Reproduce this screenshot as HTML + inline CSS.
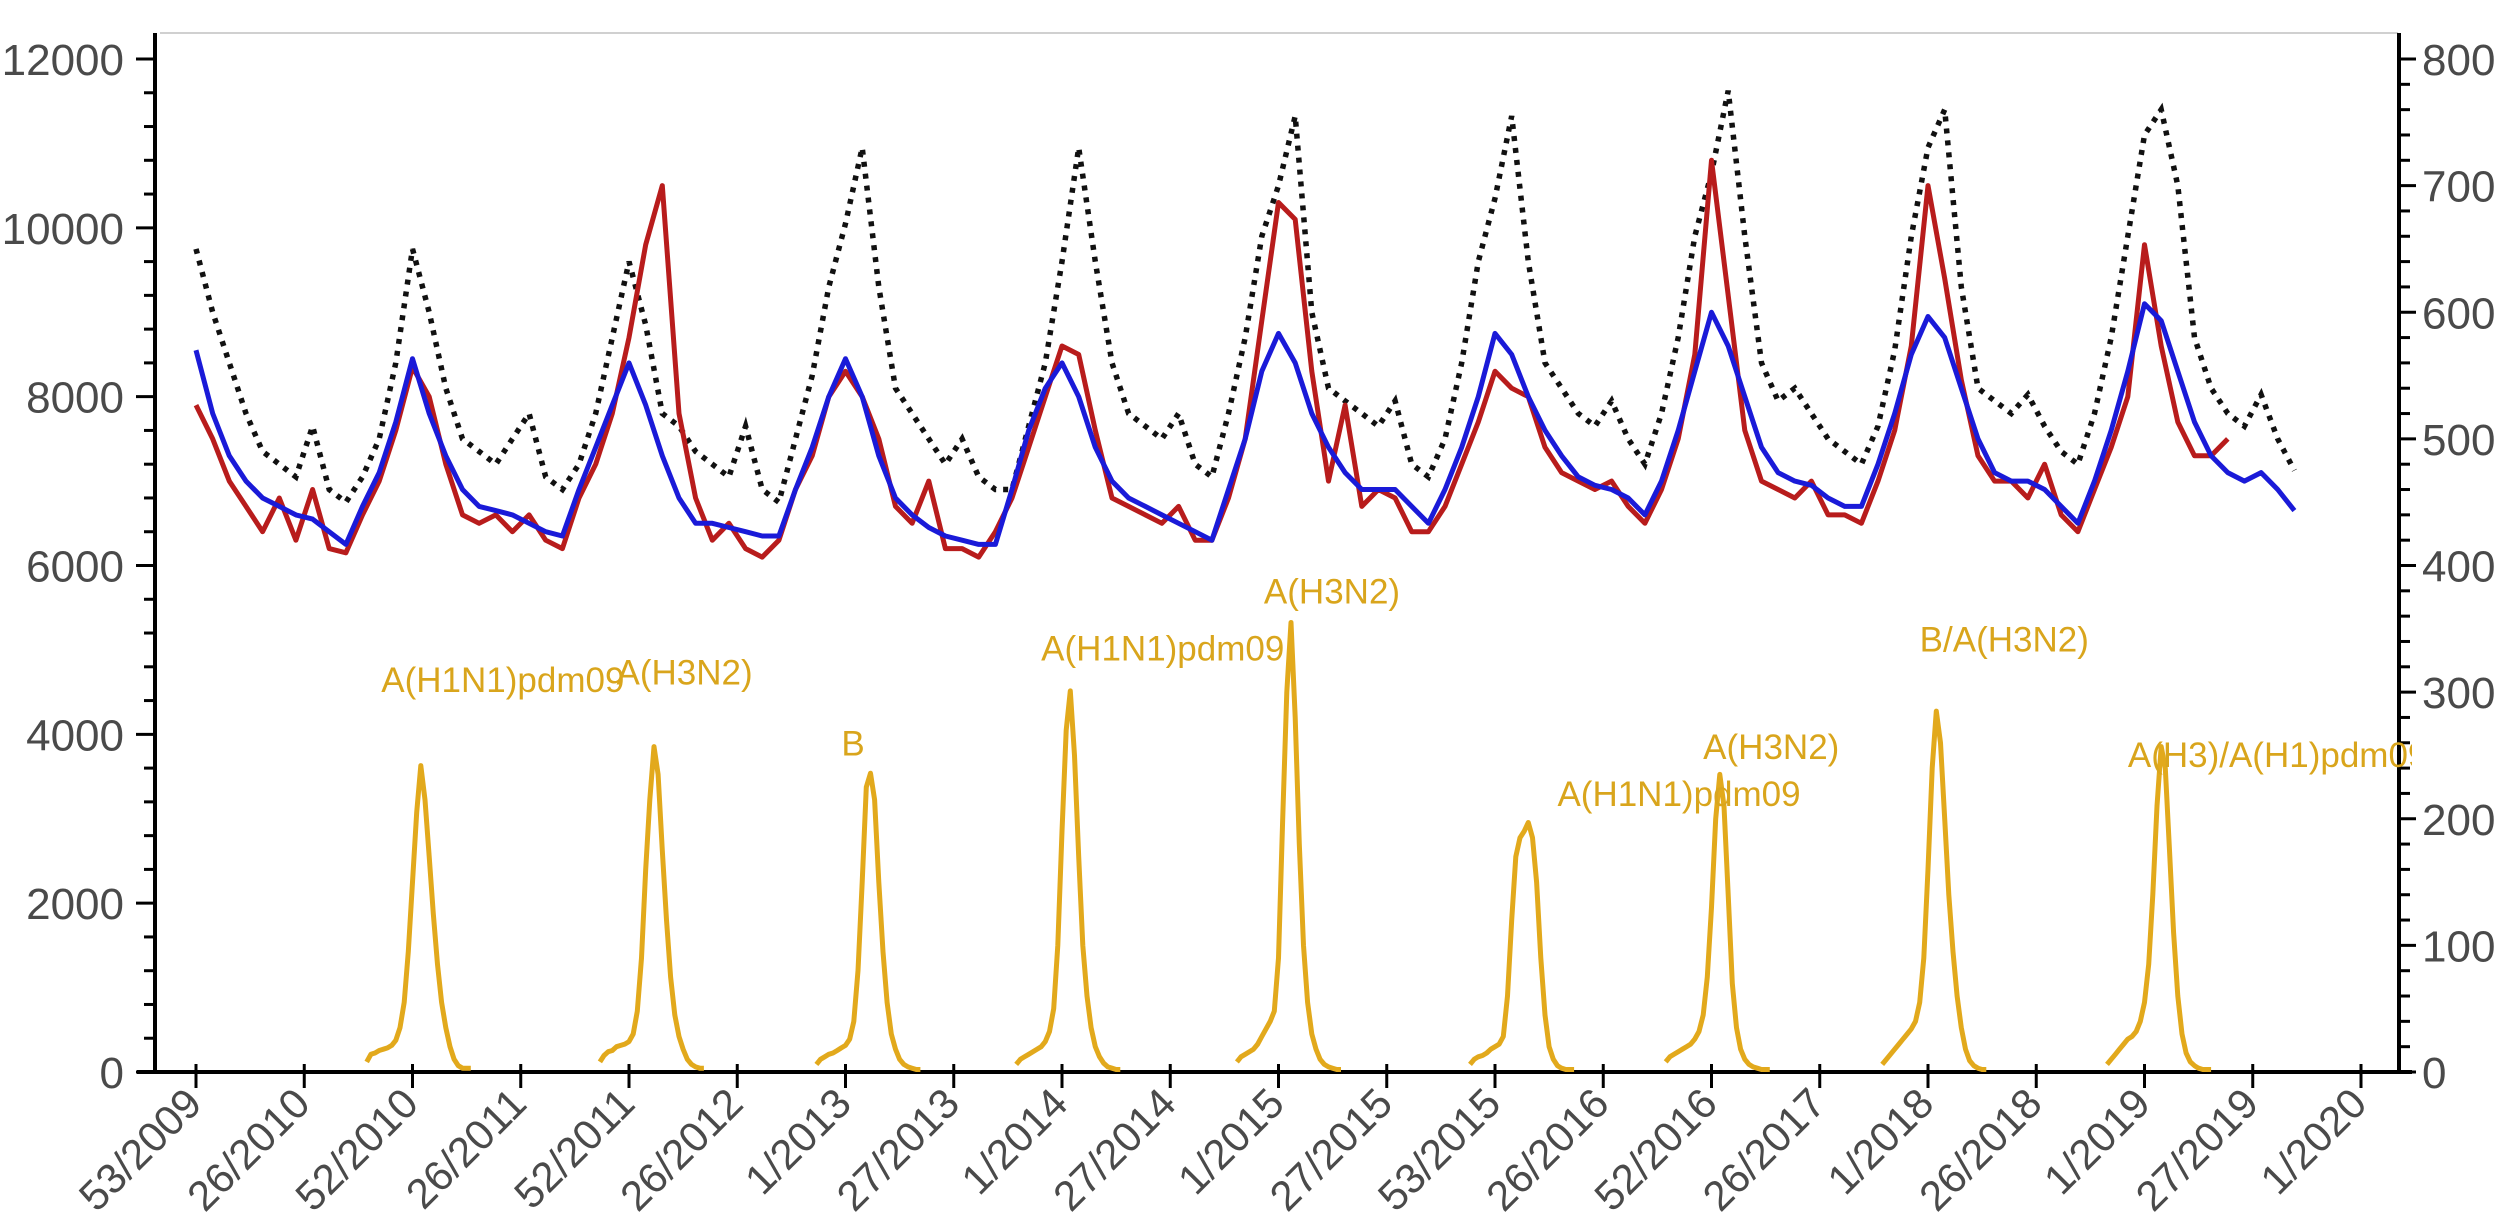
<!DOCTYPE html>
<html><head><meta charset="utf-8"><style>
html,body{margin:0;padding:0;background:#fff;}
svg{display:block;font-family:"Liberation Sans",Arial,sans-serif;}
</style></head><body>
<svg id="chart" width="2508" height="1227" viewBox="0 0 2508 1227" xmlns="http://www.w3.org/2000/svg">
<defs><clipPath id="plotclip"><rect x="156" y="0" width="2256" height="1072"/></clipPath></defs>
<line x1="160" y1="33" x2="2398" y2="33" stroke="#d0d0d0" stroke-width="2"/>
<g id="axes"></g>
<g id="series" clip-path="url(#plotclip)"></g>
<g id="labels" clip-path="url(#plotclip)"></g>
</svg>
<script>
const xTickLabels = ["53/2009","26/2010","52/2010","26/2011","52/2011","26/2012","1/2013","27/2013","1/2014","27/2014","1/2015","27/2015","53/2015","26/2016","52/2016","26/2017","1/2018","26/2018","1/2019","27/2019","1/2020"];
const leftTicks = [0,2000,4000,6000,8000,10000,12000];
const rightTicks = [0,100,200,300,400,500,600,700,800];
const blueStep = 4;
const blueValues = [8550,7800,7300,7000,6800,6700,6600,6550,6400,6250,6700,7100,7700,
8450,7800,7300,6900,6700,6650,6600,6500,6400,6350,6900,7400,7900,
8400,7900,7300,6800,6500,6500,6450,6400,6350,6350,6900,7400,8000,
8450,8000,7300,6800,6600,6450,6350,6300,6250,6250,6900,7600,8100,
8400,8000,7400,7000,6800,6700,6600,6500,6400,6300,6900,7500,8300,
8750,8400,7800,7400,7100,6900,6900,6900,6700,6500,6900,7400,8000,
8750,8500,8000,7600,7300,7050,6950,6900,6800,6600,7000,7600,8300,
9000,8600,8000,7400,7100,7000,6950,6800,6700,6700,7200,7800,8500,
8950,8700,8100,7500,7100,7000,7000,6900,6700,6500,7000,7600,8300,
9100,8900,8300,7700,7300,7100,7000,7100,6900,6650];
const redStep = 4;
const redValues = [7900,7500,7000,6700,6400,6800,6300,6900,6200,6150,6600,7000,7600,
8350,8000,7200,6600,6500,6600,6400,6600,6300,6200,6800,7200,7800,
8700,9800,10500,7800,6800,6300,6500,6200,6100,6300,6900,7300,8000,
8300,8000,7500,6700,6500,7000,6200,6200,6100,6400,6800,7400,8000,
8600,8500,7600,6800,6700,6600,6500,6700,6300,6300,6800,7500,8900,
10300,10100,8300,7000,7900,6700,6900,6800,6400,6400,6700,7200,7700,
8300,8100,8000,7400,7100,7000,6900,7000,6700,6500,6900,7500,8500,
10800,9200,7600,7000,6900,6800,7000,6600,6600,6500,7000,7600,8600,
10500,9400,8200,7300,7000,7000,6800,7200,6600,6400,6900,7400,8000,
9800,8600,7700,7300,7300,7500];
const dotStep = 4;
const dotValues = [650,600,560,520,490,480,470,510,460,450,470,500,560,
650,600,540,500,490,480,500,520,470,460,480,520,580,
640,590,520,510,490,480,470,510,460,450,500,550,620,
670,730,620,540,520,500,480,500,470,460,460,510,560,
640,730,640,560,520,510,500,520,480,470,520,580,660,
700,755,600,540,530,520,510,530,480,470,500,560,640,
690,755,640,560,540,520,510,530,500,480,520,580,660,
710,775,660,560,530,540,520,500,490,480,510,570,660,
730,760,620,540,530,520,535,510,490,480,520,580,660,
740,760,700,580,540,520,510,535,500,475];
const fluStartWeeks = [41,97,149,197,250,306,353,405,459];
const fluSeason1 = [8,14,15,17,18,19,21,25,35,55,95,150,205,242,215,170,125,85,55,35,20,10,5,3,3,3];
const fluSeason2 = [8,13,16,17,20,21,22,24,30,48,90,160,215,257,235,175,120,75,45,28,18,10,6,4,3,3];
const fluSeason3 = [6,10,12,14,15,17,19,21,26,40,80,150,225,236,215,150,95,55,30,18,10,6,4,3,2,2];
const fluSeason4 = [6,10,12,14,16,18,20,24,32,50,100,190,270,301,250,170,100,60,35,20,12,7,4,3,2,2];
const fluSeason5 = [8,12,14,16,18,22,28,34,40,48,90,200,300,355,280,180,100,55,30,18,10,6,4,3,2,2];
const fluSeason6 = [6,10,12,13,15,18,20,22,28,60,120,170,185,190,197,185,150,90,45,20,10,5,3,2,2,2];
const fluSeason7 = [8,12,14,16,18,20,22,26,32,45,75,130,200,235,210,140,70,35,18,10,6,4,3,2,2,2];
const fluSeason8 = [6,10,14,18,22,26,30,34,40,55,90,160,240,285,260,200,140,95,60,35,18,9,5,3,2,2];
const fluSeason9 = [6,10,14,18,22,26,28,32,40,55,85,140,210,257,240,175,110,60,30,15,8,5,3,2,2,2];
const seasonLabels = ["A(H1N1)pdm09","A(H3N2)","B","A(H1N1)pdm09","A(H3N2)","A(H1N1)pdm09","A(H3N2)","B/A(H3N2)","A(H3)/A(H1)pdm09"];
const labelWeeks = [44.5,101,155,203,256.5,327,362,414,464];
const labelValues = [300,306,250,325,370,210,247,332,241];

const NS="http://www.w3.org/2000/svg";
const X0=196, WEEKPX=108.25/26, Y0=1072, LEFTMAX=12000, RIGHTMAX=800, YH=1013;
function xS(w){return X0+w*WEEKPX;}
function yL(v){return Y0-v*YH/LEFTMAX;}
function yR(v){return Y0-v*YH/RIGHTMAX;}
function mk(tag,attrs,parent){const e=document.createElementNS(NS,tag);for(const k in attrs)e.setAttribute(k,attrs[k]);parent.appendChild(e);return e;}
const axes=document.getElementById('axes'), series=document.getElementById('series'), labels=document.getElementById('labels');

let la=mk('line',{x1:155,y1:33,x2:155,y2:Y0+2,stroke:'#000','stroke-width':4},axes);


let ra=mk('line',{x1:2399,y1:33,x2:2399,y2:Y0+2,stroke:'#000','stroke-width':4},axes);


let xa=mk('line',{x1:137,y1:Y0,x2:2412,y2:Y0,stroke:'#000','stroke-width':4},axes);



for(let v=0;v<=LEFTMAX;v+=400){const major=v%2000===0;
 const t=mk('line',{x1:major?136:144,y1:yL(v),x2:155,y2:yL(v),stroke:'#000','stroke-width':3},axes);
 
 }
leftTicks.forEach(v=>{const t=mk('text',{x:124,y:yL(v)+16,'text-anchor':'end','font-size':44,fill:'#4a4a4a'},axes);t.textContent=v;
 
 });
for(let v=0;v<=RIGHTMAX;v+=20){const major=v%100===0;
 const t=mk('line',{x1:2399,y1:yR(v),x2:major?2416:2410,y2:yR(v),stroke:'#000','stroke-width':3},axes);
 
 }
rightTicks.forEach(v=>{const t=mk('text',{x:2422,y:yR(v)+16,'text-anchor':'start','font-size':44,fill:'#4a4a4a'},axes);t.textContent=v;
 
 });
xTickLabels.forEach((lab,i)=>{const x=xS(i*26);
 const t=mk('line',{x1:x,y1:Y0-8,x2:x,y2:Y0+16,stroke:'#000','stroke-width':3},axes);
 
 
 const tx=mk('text',{x:x+8,y:Y0+34,'text-anchor':'end','font-size':42,fill:'#4a4a4a',transform:`rotate(-45 ${x+8} ${Y0+34})`},axes);
 tx.textContent=lab;
 
 });

function pathFrom(vals,step,start,yf){return vals.map((v,i)=>(i?'L':'M')+xS(start+i*step).toFixed(1)+' '+yf(v).toFixed(1)).join(' ');}

const fluSeasons=[fluSeason1,fluSeason2,fluSeason3,fluSeason4,fluSeason5,fluSeason6,fluSeason7,fluSeason8,fluSeason9];
fluSeasons.forEach((s,i)=>{const p=mk('path',{d:pathFrom(s,1,fluStartWeeks[i],yR),fill:'none',stroke:'#e2a91c','stroke-width':5,'stroke-linejoin':'round'},series);
 
 });
const dp=mk('path',{d:pathFrom(dotValues,dotStep,0,yR),fill:'none',stroke:'#111','stroke-width':5.5,'stroke-dasharray':'5 7'},series);


const rp=mk('path',{d:pathFrom(redValues,redStep,0,yL),fill:'none',stroke:'#b81c1c','stroke-width':5,'stroke-linejoin':'round'},series);


const bp=mk('path',{d:pathFrom(blueValues,blueStep,0,yL),fill:'none',stroke:'#1a1ad8','stroke-width':5,'stroke-linejoin':'round'},series);



seasonLabels.forEach((lab,i)=>{const t=mk('text',{x:xS(labelWeeks[i]),y:yR(labelValues[i]),'font-size':35,fill:'#d9a51c'},labels);
 t.textContent=lab;
 
 });
</script>
</body></html>
